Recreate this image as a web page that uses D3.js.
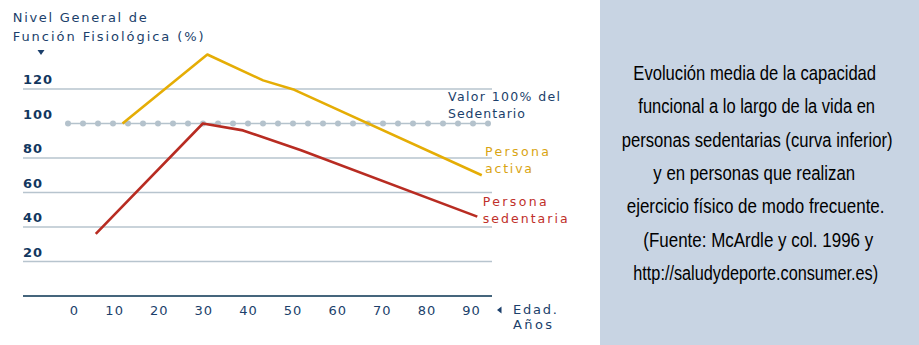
<!DOCTYPE html>
<html><head><meta charset="utf-8">
<script src="https://cdn.jsdelivr.net/npm/d3@7/dist/d3.min.js"></script>
<style>
html,body{margin:0;padding:0;background:#fff;}
svg{display:block;}
</style></head>
<body>
<svg id="chart" width="919" height="345"></svg>
<script>
// ---- data ----
const xTicks = [0,10,20,30,40,50,60,70,80,90];
const yTicks = [20,40,60,80,100,120];
const sedentaryAge = [6, 30, 39, 52, 91.5];
const sedentaryVal = [36, 100, 96, 84.5, 46];
const activeAge = [12, 31, 43.5, 50.5, 92.5];
const activeVal = [100, 140, 125, 119.5, 70];
const reference = 100;
const titleLines = ["Nivel General de", "Función Fisiológica (%)"];
const xTitleLines = ["Edad.", "Años"];
const refLabel = ["Valor 100% del", "Sedentario"];
const activeLabel = ["Persona", "activa"];
const sedentaryLabel = ["Persona", "sedentaria"];
const captionLines = [
  "Evolución media de la capacidad",
  "funcional a lo largo de la vida en",
  "personas sedentarias (curva inferior)",
  "y en personas que realizan",
  "ejercicio físico de modo frecuente.",
  "(Fuente: McArdle y col. 1996 y",
  "http://saludydeporte.consumer.es)"
];

// ---- layout ----
const svg = d3.select("#chart");
const navy = "#1b3f6b";
const gold = "#e5ad05";
const red = "#b82c22";
const gridLeft = 23, gridRight = 492;

const x = d3.scaleLinear().domain([0,90]).range([69, 470.6]);
const y = d3.scaleLinear().domain([0,120]).range([296, 89]);

// right panel
svg.append("rect").attr("x",600).attr("y",0).attr("width",319).attr("height",345).attr("fill","#c8d4e3");
const capX = [633.3,638.3,621.7,653.3,626.7,643.3,633.3];
const capW = [243,237,271,202,258,230,245];
const capG = svg.append("g");
captionLines.forEach((t,i)=>{
  const g = capG.append("g");
  const txt = g.append("text").attr("x",0).attr("y",0)
    .attr("font-family","'Liberation Sans Narrow','Liberation Sans',Arial,sans-serif")
    .attr("font-size",21).attr("fill","#000").text(t);
  const w = txt.node().getComputedTextLength();
  g.attr("transform",`translate(${capX[i]},${80 + i*33.33}) scale(${capW[i]/w},1)`);
});

// gridlines
const grid = svg.append("g");
grid.selectAll("line").data(yTicks.filter(v=>v!==reference)).join("line")
  .attr("x1",gridLeft).attr("x2",gridRight)
  .attr("y1",d=>y(d)).attr("y2",d=>y(d))
  .attr("stroke","#b7c4ce").attr("stroke-width",1.6);
// baseline
svg.append("line").attr("x1",gridLeft).attr("x2",gridRight)
  .attr("y1",y(0)).attr("y2",y(0)).attr("stroke","#45657c").attr("stroke-width",2);

// reference dotted line
const refG = svg.append("g");
refG.append("line").attr("x1",68).attr("x2",488).attr("y1",y(reference)).attr("y2",y(reference))
  .attr("stroke","#b4c2cc").attr("stroke-width",1.5);
refG.selectAll("circle").data(d3.range(68, 489, 15)).join("circle")
  .attr("cx",d=>d).attr("cy",y(reference)).attr("r",3).attr("fill","#b4c2cc");

// y tick labels
svg.append("g").selectAll("text").data(yTicks).join("text")
  .attr("x",gridLeft).attr("y",d=>y(d)-5)
  .attr("font-family","'DejaVu Sans',Verdana,sans-serif").attr("font-weight","bold")
  .attr("font-size",13).attr("letter-spacing",1).attr("fill","#12375f").text(d=>d);

// x axis tick labels
const xAxis = d3.axisBottom(x).tickValues(xTicks).tickSize(0).tickPadding(0);
const xg = svg.append("g").attr("transform","translate(0,315)").call(xAxis);
xg.select(".domain").remove();
xg.selectAll("text").attr("dy",0).attr("y",0)
  .attr("dx",d=>d===0?5:0.5)
  .attr("font-family","'DejaVu Sans',Verdana,sans-serif").attr("font-size",13)
  .attr("letter-spacing",1).attr("fill",navy);

// lines
const line = d3.line().x(d=>x(d[0])).y(d=>y(d[1]));
svg.append("path").datum(activeAge.map((a,i)=>[a,activeVal[i]]))
  .attr("d",line).attr("fill","none").attr("stroke",gold).attr("stroke-width",2.6).attr("stroke-linejoin","round");
svg.append("path").datum(sedentaryAge.map((a,i)=>[a,sedentaryVal[i]]))
  .attr("d",line).attr("fill","none").attr("stroke",red).attr("stroke-width",2.6).attr("stroke-linejoin","round");

// text helper
function lines(arr, x0, ys, widths, color, size){
  svg.append("g").selectAll("text").data(arr).join("text")
    .attr("x",x0).attr("y",(d,i)=>ys[i])
    .attr("textLength",(d,i)=>widths[i]).attr("lengthAdjust","spacing")
    .attr("font-family","'DejaVu Sans',Verdana,sans-serif").attr("font-size",size)
    .attr("fill",color).text(d=>d);
}
lines(titleLines, 12.7, [22, 41], [134, 191], navy, 13);
lines(refLabel, 448, [101, 117.5], [112, 77], navy, 12.5);
lines(activeLabel, 485, [155.5, 173], [64, 47], "#d9a413", 12.5);
lines(sedentaryLabel, 482.7, [205.5, 223], [64, 85], "#c0302a", 12.5);
lines(xTitleLines, 513, [314, 329], [44, 39], navy, 13);

// small triangles
svg.append("path").attr("d","M37.5,50 L44.5,50 L41,55 Z").attr("fill",navy);
svg.append("path").attr("d","M501.5,306.5 L501.5,313.5 L497,310 Z").attr("fill",navy);
</script>
</body></html>
